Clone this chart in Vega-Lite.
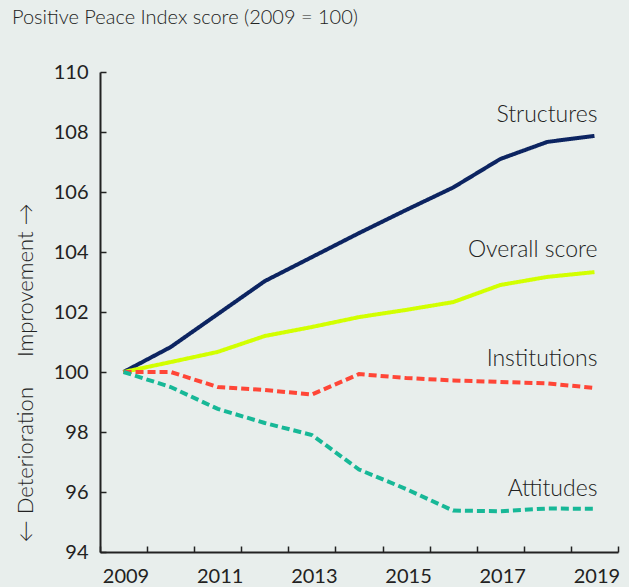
{
  "$schema": "https://vega.github.io/schema/vega-lite/v6.json",
  "width": 518,
  "height": 480,
  "autosize": {"type": "none"},
  "padding": {"left": 100, "top": 72, "right": 11, "bottom": 35},
  "background": "#e8eeec",
  "title": {
    "text": "Positive Peace Index score (2009 = 100)",
    "anchor": "start",
    "frame": "group",
    "dx": -88,
    "offset": 18,
    "baseline": "alphabetic",
    "fontSize": 20,
    "font": "Lato",
    "fontWeight": 300,
    "color": "#222222"
  },
  "config": {"view": {"stroke": null}, "font": "Lato"},
  "datasets": {
    "scores": [
      {"year": 2009, "series": "Structures", "value": 100.0},
      {"year": 2010, "series": "Structures", "value": 100.83},
      {"year": 2011, "series": "Structures", "value": 101.93},
      {"year": 2012, "series": "Structures", "value": 103.03},
      {"year": 2013, "series": "Structures", "value": 103.83},
      {"year": 2014, "series": "Structures", "value": 104.63},
      {"year": 2015, "series": "Structures", "value": 105.4},
      {"year": 2016, "series": "Structures", "value": 106.15},
      {"year": 2017, "series": "Structures", "value": 107.1},
      {"year": 2018, "series": "Structures", "value": 107.67},
      {"year": 2019, "series": "Structures", "value": 107.87},
      {"year": 2009, "series": "Overall score", "value": 100.0},
      {"year": 2010, "series": "Overall score", "value": 100.33},
      {"year": 2011, "series": "Overall score", "value": 100.67},
      {"year": 2012, "series": "Overall score", "value": 101.2},
      {"year": 2013, "series": "Overall score", "value": 101.5},
      {"year": 2014, "series": "Overall score", "value": 101.83},
      {"year": 2015, "series": "Overall score", "value": 102.07},
      {"year": 2016, "series": "Overall score", "value": 102.33},
      {"year": 2017, "series": "Overall score", "value": 102.9},
      {"year": 2018, "series": "Overall score", "value": 103.17},
      {"year": 2019, "series": "Overall score", "value": 103.33},
      {"year": 2009, "series": "Institutions", "value": 100.0},
      {"year": 2010, "series": "Institutions", "value": 100.0},
      {"year": 2011, "series": "Institutions", "value": 99.5},
      {"year": 2012, "series": "Institutions", "value": 99.4},
      {"year": 2013, "series": "Institutions", "value": 99.25},
      {"year": 2014, "series": "Institutions", "value": 99.93},
      {"year": 2015, "series": "Institutions", "value": 99.8},
      {"year": 2016, "series": "Institutions", "value": 99.72},
      {"year": 2017, "series": "Institutions", "value": 99.67},
      {"year": 2018, "series": "Institutions", "value": 99.62},
      {"year": 2019, "series": "Institutions", "value": 99.47},
      {"year": 2009, "series": "Attitudes", "value": 100.0},
      {"year": 2010, "series": "Attitudes", "value": 99.5},
      {"year": 2011, "series": "Attitudes", "value": 98.77},
      {"year": 2012, "series": "Attitudes", "value": 98.3},
      {"year": 2013, "series": "Attitudes", "value": 97.9},
      {"year": 2014, "series": "Attitudes", "value": 96.75},
      {"year": 2015, "series": "Attitudes", "value": 96.1},
      {"year": 2016, "series": "Attitudes", "value": 95.38},
      {"year": 2017, "series": "Attitudes", "value": 95.36},
      {"year": 2018, "series": "Attitudes", "value": 95.45},
      {"year": 2019, "series": "Attitudes", "value": 95.44}
    ],
    "labels": [
      {"year": 2019, "series": "Structures", "value": 108.33},
      {"year": 2019, "series": "Overall score", "value": 103.83},
      {"year": 2019, "series": "Institutions", "value": 100.2},
      {"year": 2019, "series": "Attitudes", "value": 95.87}
    ]
  },
  "layer": [
    {
      "data": {"name": "scores"},
      "mark": {"type": "line", "strokeWidth": 4, "clip": false},
      "encoding": {
        "x": {
          "field": "year",
          "type": "quantitative",
          "scale": {"domain": [2008.5, 2019.5], "nice": false, "zero": false},
          "axis": {
            "title": null,
            "grid": false,
            "values": [2008.5, 2009.5, 2010.5, 2011.5, 2012.5, 2013.5, 2014.5, 2015.5, 2016.5, 2017.5, 2018.5, 2019.5],
            "labelExpr": "(datum.value + 0.5) % 2 == 1 && datum.value < 2019 ? toString(datum.value + 0.5) : ''",
            "labelOffset": 25.5,
            "labelFlush": false,
            "labelOverlap": false,
            "labelBound": false,
            "tickSize": -6,
            "labelPadding": 20,
            "labelFontSize": 20,
            "labelFont": "Lato",
            "labelColor": "#222222",
            "domainColor": "#222222",
            "tickColor": "#222222",
            "domainWidth": 2,
            "tickWidth": 1.5
          }
        },
        "y": {
          "field": "value",
          "type": "quantitative",
          "scale": {"domain": [94, 110], "nice": false, "zero": false},
          "axis": {
            "title": null,
            "grid": false,
            "values": [94, 96, 98, 100, 102, 104, 106, 108, 110],
            "tickSize": -6,
            "labelPadding": 18,
            "labelFontSize": 20,
            "labelFont": "Lato",
            "labelColor": "#222222",
            "domainColor": "#222222",
            "tickColor": "#222222",
            "domainWidth": 2,
            "tickWidth": 1.5
          }
        },
        "color": {
          "field": "series",
          "type": "nominal",
          "scale": {
            "domain": ["Structures", "Overall score", "Institutions", "Attitudes"],
            "range": ["#0c2461", "#d2ff00", "#ff4637", "#17b897"]
          },
          "legend": null
        },
        "strokeDash": {
          "field": "series",
          "type": "nominal",
          "scale": {
            "domain": ["Structures", "Overall score", "Institutions", "Attitudes"],
            "range": [[1, 0], [1, 0], [8, 4], [8, 4]]
          },
          "legend": null
        }
      }
    },
    {
      "data": {"name": "labels"},
      "mark": {"type": "text", "align": "right", "baseline": "alphabetic", "dx": 3, "fontSize": 23, "font": "Lato", "fontWeight": 300, "color": "#222222"},
      "encoding": {
        "x": {"field": "year", "type": "quantitative"},
        "y": {"field": "value", "type": "quantitative"},
        "text": {"field": "series"}
      }
    },
    {
      "data": {"values": [{"note": "Improvement →"}]},
      "mark": {"type": "text", "angle": 270, "align": "left", "baseline": "middle", "fontSize": 22, "font": "Lato", "fontWeight": 300, "color": "#222222", "clip": false},
      "encoding": {
        "x": {"datum": 2006.92, "type": "quantitative"},
        "y": {"datum": 100.5, "type": "quantitative"},
        "text": {"field": "note"}
      }
    },
    {
      "data": {"values": [{"note": "← Deterioration"}]},
      "mark": {"type": "text", "angle": 270, "align": "right", "baseline": "middle", "fontSize": 22, "font": "Lato", "fontWeight": 300, "color": "#222222", "clip": false},
      "encoding": {
        "x": {"datum": 2006.92, "type": "quantitative"},
        "y": {"datum": 99.5, "type": "quantitative"},
        "text": {"field": "note"}
      }
    }
  ]
}
